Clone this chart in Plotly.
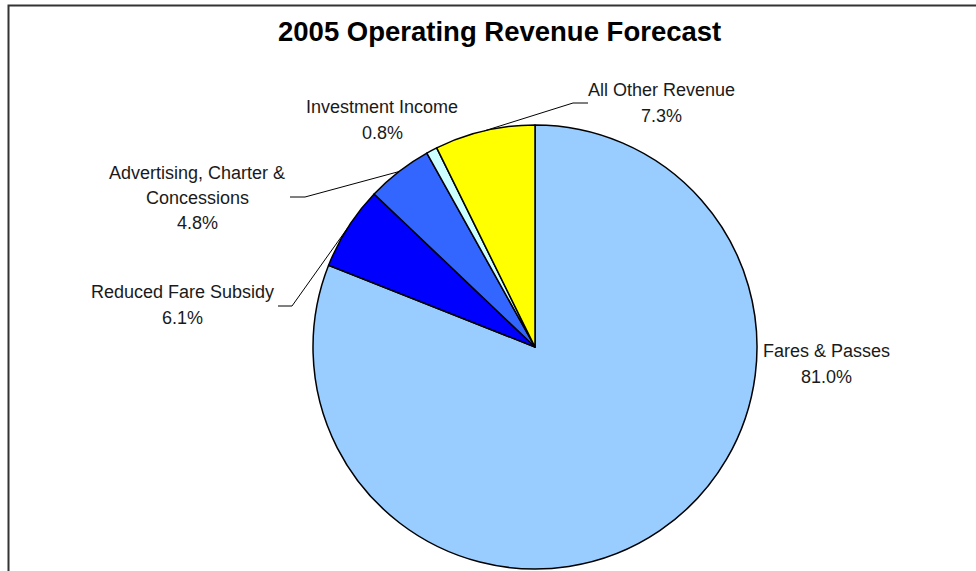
import math
import plotly.graph_objects as go

# ---- data ----
categories = ["Fares & Passes", "Reduced Fare Subsidy", "Advertising, Charter & Concessions",
              "Investment Income", "All Other Revenue"]
shares = [81.0, 6.1, 4.8, 0.8, 7.3]
label_lines = [["Fares & Passes"], ["Reduced Fare Subsidy"], ["Advertising, Charter &", "Concessions"],
               ["Investment Income"], ["All Other Revenue"]]
title_text = "2005 Operating Revenue Forecast"

# ---- style / layout ----
W, H = 976, 571
colors = ["#99CCFF", "#0000FF", "#3366FF", "#CCFFFF", "#FFFF00"]
CX, CY, R = 535, 347, 222  # pie centre/radius in pixels
label_pos = [(826, 364), (182, 305), (197, 198), (382, 120), (661, 103)]
LINE_H = 25.5
# leader line: elbow and end point (pixels); None = no leader
leaders = [None, [(292, 306), (278, 306)], [(305, 197), (290, 197)], None, [(573, 103), (588, 103)]]
FONT = "Liberation Sans, Arial"


def px(x):
    return x / W


def py(y):
    return 1 - y / H


fig = go.Figure(go.Pie(
    labels=categories, values=shares, sort=False, direction="clockwise", rotation=0,
    marker=dict(colors=colors, line=dict(color="#000000", width=1.5)),
    textinfo="none", hoverinfo="label+percent",
    domain=dict(x=[px(CX - R), px(CX + R)], y=[py(CY + R), py(CY - R)]),
    showlegend=False,
))

annotations = [dict(text=f"<b>{title_text}</b>", x=px(500), y=py(31), xref="paper", yref="paper",
                    showarrow=False, xanchor="center", yanchor="middle",
                    font=dict(family=FONT, size=27.5, color="#000000"))]
shapes = [dict(type="rect", xref="paper", yref="paper", x0=px(8.5), y0=-0.2, x1=1.2, y1=py(5.5),
               line=dict(color="#333333", width=2), fillcolor="rgba(0,0,0,0)")]

total = sum(shares)
cum = 0.0
for i, v in enumerate(shares):
    lx, ly = label_pos[i]
    lines = label_lines[i] + [f"{v:.1f}%"]
    n = len(lines)
    for k, t in enumerate(lines):
        yk = ly + (k - (n - 1) / 2) * LINE_H
        annotations.append(dict(text=t, x=px(lx), y=py(yk), xref="paper", yref="paper",
                                showarrow=False, xanchor="center", yanchor="middle",
                                font=dict(family=FONT, size=18, color="#1a1a1a")))
    theta = 2 * math.pi * (cum + v / 2) / total
    ex, ey = CX + R * math.sin(theta), CY - R * math.cos(theta)
    if leaders[i] is not None:
        (bx, by), (tx, ty) = leaders[i]
        shapes.append(dict(type="path", xref="paper", yref="paper",
                           path=f"M {px(ex)} {py(ey)} L {px(bx)} {py(by)} L {px(tx)} {py(ty)}",
                           line=dict(color="#000000", width=1)))
    cum += v

fig.update_layout(width=W, height=H, autosize=False, margin=dict(l=0, r=0, t=0, b=0),
                  paper_bgcolor="#FFFFFF", plot_bgcolor="#FFFFFF",
                  annotations=annotations, shapes=shapes)
fig.write_html("out.html", config={"displayModeBar": False},
               post_script="document.body.style.margin='0';document.body.style.overflow='hidden';")
